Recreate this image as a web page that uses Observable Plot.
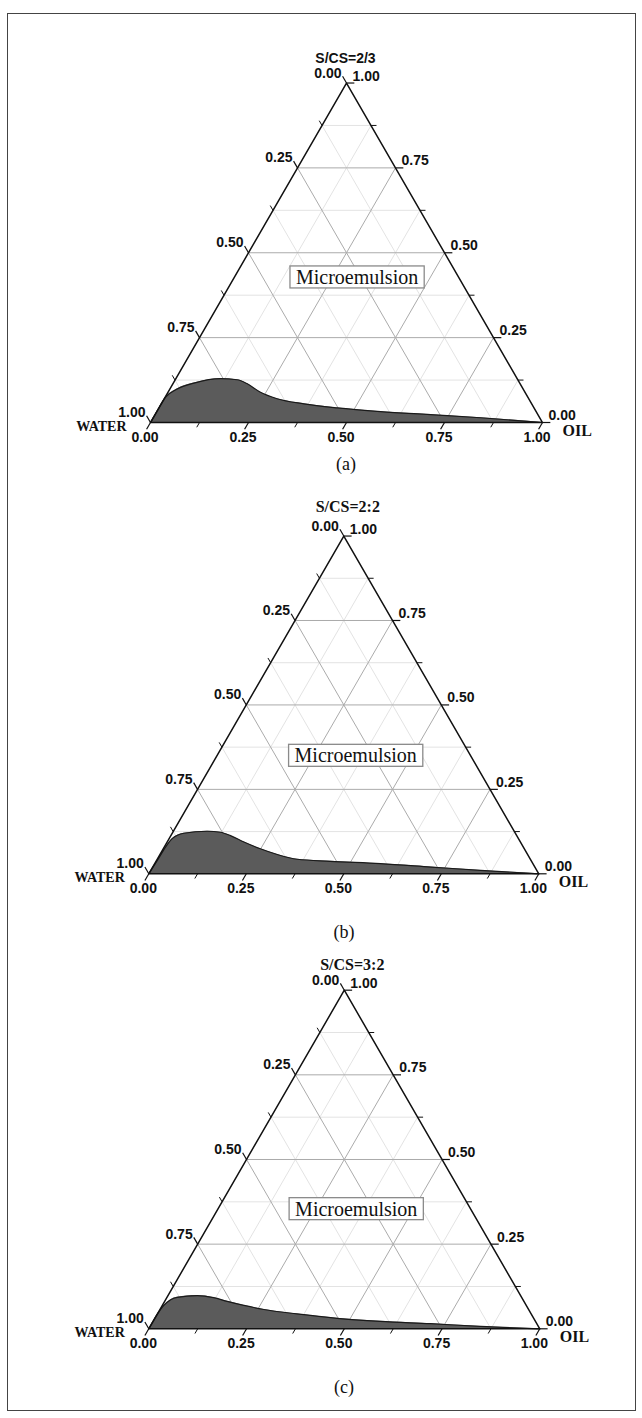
<!DOCTYPE html>
<html><head><meta charset="utf-8">
<script src="https://cdn.jsdelivr.net/npm/d3@7"></script>
<script src="https://cdn.jsdelivr.net/npm/@observablehq/plot@0.6"></script>
<style>
body{margin:0;background:#fff;}
#page{position:relative;width:642px;height:1418px;background:#fff;overflow:hidden;}
#frame{position:absolute;left:7px;top:13px;width:629px;height:1398px;border:1px solid #444;box-sizing:border-box;}
.chart{position:absolute;left:0;}
.cap{position:absolute;width:100px;text-align:center;font-family:"Liberation Serif","Times New Roman",serif;font-size:18px;line-height:22px;color:#111;}
</style>
</head><body>
<div id="page"><div id="frame"></div></div>
<script>
// ---- data (ternary compositions of the boundary of the shaded region: oil fraction, S/CS fraction; water = 1 - oil - S/CS)
const titles = ["S/CS=2/3", "S/CS=2:2", "S/CS=3:2"];
const captions = ["(a)", "(b)", "(c)"];
const regionLabel = "Microemulsion";
const cornerWater = "WATER";
const cornerOil = "OIL";
const majorTicks = [0, 0.25, 0.5, 0.75, 1];
const minorTicks = [0.125, 0.375, 0.625, 0.875];

const oilA = [0, 0.000, 0.001, 0.019, 0.053, 0.114, 0.158, 0.190, 0.236, 0.288, 0.364, 0.455, 0.571, 0.703, 0.835, 1];
const scsA = [0, 0.034, 0.074, 0.099, 0.116, 0.129, 0.126, 0.114, 0.089, 0.070, 0.055, 0.043, 0.032, 0.023, 0.014, 0];

const oilB = [0, 0.002, 0.008, 0.030, 0.087, 0.122, 0.153, 0.197, 0.249, 0.301, 0.359, 0.447, 0.579, 0.713, 0.846, 1];
const scsB = [0, 0.039, 0.104, 0.120, 0.126, 0.123, 0.113, 0.094, 0.074, 0.057, 0.043, 0.037, 0.030, 0.020, 0.010, 0];

const oilC = [0, 0.004, 0.013, 0.026, 0.075, 0.120, 0.160, 0.209, 0.266, 0.357, 0.466, 0.581, 0.713, 0.845, 1];
const scsC = [0, 0.069, 0.086, 0.093, 0.098, 0.092, 0.081, 0.069, 0.057, 0.044, 0.031, 0.022, 0.015, 0.007, 0];

// ---- layout
const SQ = Math.sqrt(3) / 2;
const layouts = [
  {oil: oilA, scs: scsA, top: 20, L: 150, R: 542, B: 402, titleDy: -25, titleDx: -1, titleFont: "Liberation Sans", titleSize: 14, box: [0.3135, 0.427], capX: 346, capY: 464},
  {oil: oilB, scs: scsB, top: 475, L: 148.3, R: 538.3, B: 398.3, titleDy: -29, titleDx: 4, titleFont: "Liberation Serif", titleSize: 16, box: [0.356, 0.349], capX: 344, capY: 932},
  {oil: oilC, scs: scsC, top: 930, L: 148.3, R: 539.3, B: 398.3, titleDy: -25, titleDx: 8, titleFont: "Liberation Serif", titleSize: 16, box: [0.354, 0.353], capX: 344, capY: 1387}
];

const px = (oil, s) => oil + s / 2;
const py = (oil, s) => s * SQ;

function gridLines(values) {
  const out = [];
  for (const c of values) {
    out.push({x1: px(c, 0), y1: py(c, 0), x2: px(c, 1 - c), y2: py(c, 1 - c)});
    out.push({x1: px(0, c), y1: py(0, c), x2: px(1 - c, c), y2: py(1 - c, c)});
    out.push({x1: px(1 - c, 0), y1: py(1 - c, 0), x2: px(0, 1 - c), y2: py(0, 1 - c)});
  }
  return out;
}

function ticks(values, len) {
  const out = [];
  for (const v of values) {
    let x = px(v, 0), y = py(v, 0);
    out.push({axis: "b", v, x1: x, y1: y, x2: x - 0.5 * len, y2: y - SQ * len});
    x = px(0, 1 - v); y = py(0, 1 - v);
    out.push({axis: "l", v, x1: x, y1: y, x2: x - 0.5 * len, y2: y + SQ * len});
    x = px(1 - v, v); y = py(1 - v, v);
    out.push({axis: "r", v, x1: x, y1: y, x2: x + len, y2: y});
  }
  return out;
}

const page = document.getElementById("page");
const sans = "Liberation Sans, Arial, sans-serif";
const serif = "Liberation Serif, Times New Roman, serif";

layouts.forEach((cfg, i) => {
  const region = cfg.oil.map((o, j) => ({x: px(o, cfg.scs[j]), y: py(o, cfg.scs[j])}));
  const tri = [{x: 0, y: 0}, {x: 1, y: 0}, {x: 0.5, y: SQ}, {x: 0, y: 0}];
  const majT = ticks(majorTicks, 0.02);
  const minT = ticks(minorTicks, 0.014);
  const labB = majT.filter(d => d.axis === "b");
  const labL = majT.filter(d => d.axis === "l");
  const labR = majT.filter(d => d.axis === "r");
  const fmt = d => d.v.toFixed(2);
  const w = cfg.R - cfg.L;

  const svg = Plot.plot({
    width: 642, height: 440, margin: 0,
    style: {background: "transparent", overflow: "visible"},
    x: {domain: [0, 1], range: [cfg.L, cfg.R], axis: null},
    y: {domain: [0, SQ], range: [cfg.B, cfg.B - w * SQ], axis: null},
    marks: [
      Plot.link(gridLines(minorTicks), {x1: "x1", y1: "y1", x2: "x2", y2: "y2", stroke: "#e3e3e3", strokeWidth: 1}),
      Plot.link(gridLines([0.25, 0.5, 0.75]), {x1: "x1", y1: "y1", x2: "x2", y2: "y2", stroke: "#ababab", strokeWidth: 1}),
      Plot.areaY(region, {x: "x", y: "y", fill: "#5b5b5b", curve: "monotone-x"}),
      Plot.line(region, {x: "x", y: "y", stroke: "#1a1a1a", strokeWidth: 1.2, curve: "monotone-x"}),
      Plot.line(tri, {x: "x", y: "y", stroke: "#111", strokeWidth: 1.5}),
      Plot.link(majT, {x1: "x1", y1: "y1", x2: "x2", y2: "y2", stroke: "#111", strokeWidth: 1.2}),
      Plot.link(minT, {x1: "x1", y1: "y1", x2: "x2", y2: "y2", stroke: "#111", strokeWidth: 1}),
      Plot.text(labB, {x: "x1", y: "y1", text: fmt, textAnchor: "middle", dx: -5.5, dy: 15, fontFamily: sans, fontWeight: "bold", fontSize: 14, fill: "#111"}),
      Plot.text(labL, {x: "x1", y: "y1", text: fmt, textAnchor: "end", dx: -5, dy: -10, fontFamily: sans, fontWeight: "bold", fontSize: 14, fill: "#111"}),
      Plot.text(labR, {x: "x1", y: "y1", text: fmt, textAnchor: "start", dx: 6, dy: -7, fontFamily: sans, fontWeight: "bold", fontSize: 14, fill: "#111"}),
      Plot.text([titles[i]], {x: () => 0.5, y: () => SQ, text: d => d, textAnchor: "middle", dx: cfg.titleDx, dy: cfg.titleDy, fontFamily: cfg.titleFont, fontWeight: "bold", fontSize: cfg.titleSize, fill: "#111"}),
      Plot.text([cornerWater], {x: () => 0, y: () => 0, text: d => d, textAnchor: "end", dx: -24, dy: 4, fontFamily: serif, fontWeight: "bold", fontSize: 14, fill: "#111"}),
      Plot.text([cornerOil], {x: () => 1, y: () => 0, text: d => d, textAnchor: "start", dx: 20, dy: 8, fontFamily: serif, fontWeight: "bold", fontSize: 16, fill: "#111"}),
      Plot.text([regionLabel], {x: () => px(cfg.box[0], cfg.box[1]), y: () => py(cfg.box[0], cfg.box[1]), text: d => d, textAnchor: "middle", fontFamily: serif, fontSize: 20, fill: "#111"})
    ]
  });
  svg.classList.add("chart");
  svg.style.top = cfg.top + "px";
  svg.style.position = "absolute";
  svg.style.left = "0px";
  page.appendChild(svg);

  // frame box around the region label (same transform as the text)
  svg.querySelectorAll("text").forEach(t => {
    if (t.textContent === regionLabel) {
      const bb = t.getBBox();
      const r = document.createElementNS("http://www.w3.org/2000/svg", "rect");
      const h = 22;
      r.setAttribute("x", bb.x - 6);
      r.setAttribute("y", bb.y + bb.height / 2 - h / 2);
      r.setAttribute("width", bb.width + 12);
      r.setAttribute("height", h);
      r.setAttribute("fill", "#fff");
      r.setAttribute("stroke", "#8a8a8a");
      r.setAttribute("stroke-width", "1.3");
      const tf = t.getAttribute("transform");
      if (tf) r.setAttribute("transform", tf);
      t.parentNode.insertBefore(r, t);
    }
  });

  const cap = document.createElement("div");
  cap.className = "cap";
  cap.textContent = captions[i];
  cap.style.left = (cfg.capX - 50) + "px";
  cap.style.top = (cfg.capY - 11) + "px";
  page.appendChild(cap);
});
</script>
</body></html>
